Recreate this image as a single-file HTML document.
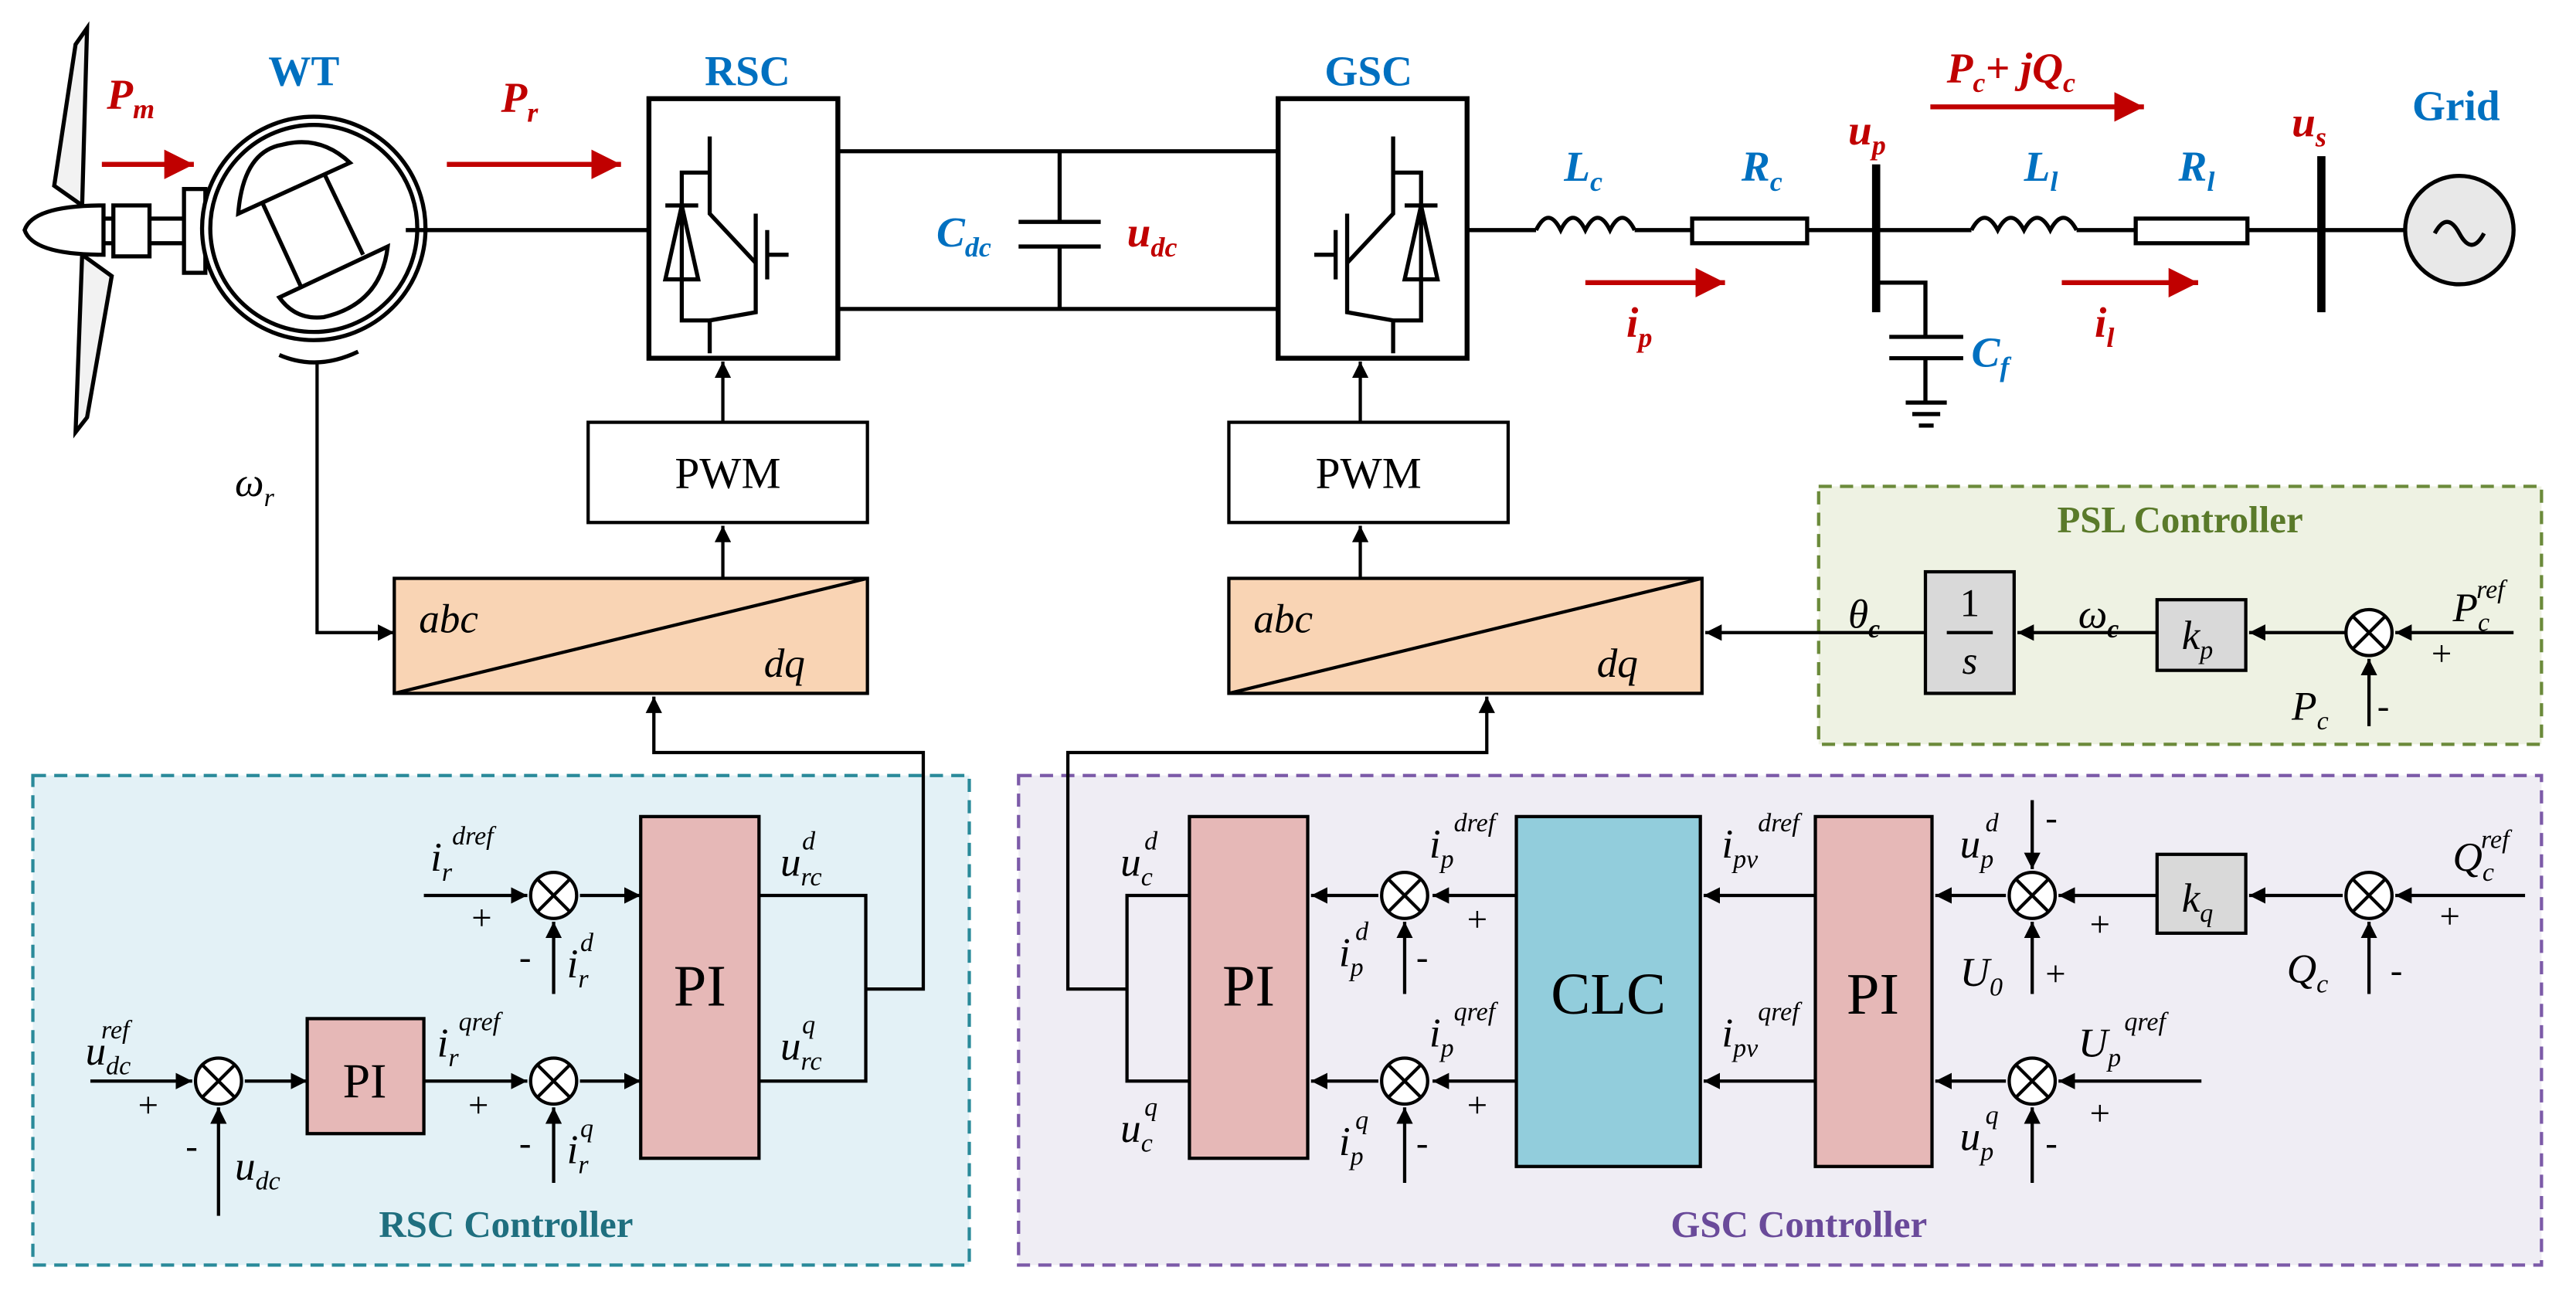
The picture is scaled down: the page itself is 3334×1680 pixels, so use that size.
<!DOCTYPE html>
<html><head><meta charset="utf-8"><style>
html,body{margin:0;padding:0;background:#fff}
svg{display:block}
text{font-family:"Liberation Serif",serif}
.i{font-style:italic}
.b{font-weight:bold}
</style></head><body>
<svg width="3334" height="1680" viewBox="0 0 1568 790" xmlns="http://www.w3.org/2000/svg">
<defs>
<marker id="a" viewBox="0 0 10 10" refX="10" refY="5" markerWidth="10" markerHeight="10" markerUnits="userSpaceOnUse" orient="auto"><path d="M0,0L10,5L0,10z" fill="#000"/></marker>
<marker id="r" viewBox="0 0 10 10" refX="10" refY="5" markerWidth="18" markerHeight="20" markerUnits="userSpaceOnUse" orient="auto"><path d="M0,0L10,5L0,10z" fill="#c00000"/></marker>
<g id="sum"><circle r="14" fill="#fff" stroke="#000" stroke-width="2"/><path d="M-10,-10L10,10M-10,10L10,-10" stroke="#000" stroke-width="2"/></g>
</defs>
<rect x="1107" y="296" width="440" height="157" fill="#eef2e3" stroke="#6b8a3a" stroke-width="2" stroke-dasharray="8,5"/>
<rect x="20" y="472" width="570" height="298" fill="#e3f1f6" stroke="#2a8a9a" stroke-width="2" stroke-dasharray="8,5"/>
<rect x="620" y="472" width="927" height="298" fill="#efedf4" stroke="#7c5aa8" stroke-width="2" stroke-dasharray="8,5"/>
<text x="1327" y="324" font-size="23" class="b" fill="#5a7a2a" text-anchor="middle">PSL Controller</text>
<text x="308" y="753" font-size="23" class="b" fill="#1f6f7f" text-anchor="middle">RSC Controller</text>
<text x="1095" y="753" font-size="23" class="b" fill="#6a4a9a" text-anchor="middle">GSC Controller</text>

<g stroke="#000" stroke-width="2.5" fill="none">
<path d="M50,125 L33,113 L46,27 L53,17 Z" fill="#f2f2f2"/>
<path d="M50,155 L68,168 L53,254 L46,263 Z" fill="#f2f2f2"/>
<path d="M63,125 Q20,125 15,140 Q20,155 63,155 Z" fill="#fff"/>
<rect x="69" y="125" width="22" height="31" fill="#fff"/>
<path d="M63,133H69M63,148H69M91,133H112M91,148H112"/>
<rect x="112" y="115" width="13" height="51" fill="#fff"/>
<circle cx="191" cy="139" r="68" fill="#fff"/>
<circle cx="191" cy="139" r="63"/>
<path d="M145,130 Q148,92 172,88 Q195,82 213,99 Z" fill="#fff"/>
<path d="M170,181 Q180,195 197,193 Q232,185 236,150 Z" fill="#fff"/>
<path d="M160,124 L183,174 M198,107 L221,155"/>
<path d="M170,216 Q193,226 218,214"/>
<line x1="247" y1="140" x2="395" y2="140"/>
<rect x="395" y="60" width="115" height="158" fill="#fff" stroke-width="3"/>
<path d="M432,83V105H415V195H432V215M432,105V130L460,160V190L432,195M460,130V175M467,140V170M467,155H480M405,125H425M415,125L405,170H425Z"/>
<path d="M510,92H778M510,188H778M645,92V135M645,150V188M620,135H670M620,150H670"/>
<rect x="778" y="60" width="115" height="158" fill="#fff" stroke-width="3"/>
<path d="M848,83V105H865V195H848V215M848,105V130L820,160V190L848,195M820,130V175M813,140V170M813,155H800M855,125H875M865,125L855,170H875Z"/>
<path d="M893,140H935 M935,140 q7.5,-15 15,0 q7.5,-15 15,0 q7.5,-15 15,0 q7.5,-15 15,0 M995,140H1030"/>
<rect x="1030" y="133" width="70" height="15" fill="#fff"/>
<path d="M1100,140H1200 M1200,140 q8,-15 16,0 q8,-15 16,0 q8,-15 16,0 q8,-15 16,0 M1264,140H1300"/>
<rect x="1300" y="133" width="68" height="15" fill="#fff"/>
<path d="M1368,140H1465"/>
<line x1="1142" y1="100" x2="1142" y2="190" stroke-width="5"/>
<line x1="1413" y1="95" x2="1413" y2="190" stroke-width="5"/>
<path d="M1142,172H1172V205M1150,205H1195M1150,218H1195M1172,218V245M1160,245H1185M1164,252H1181M1168,259H1177"/>
<circle cx="1497" cy="140" r="33" fill="#e8e8e8"/>
<path d="M1482,142 q7.5,-14 15,0 q7.5,14 15,0"/>
</g>
<g stroke="#000" stroke-width="2" fill="none">
<rect x="358" y="257" width="170" height="61" fill="#fff"/>
<rect x="748" y="257" width="170" height="61" fill="#fff"/>
<rect x="240" y="352" width="288" height="70" fill="#f9d4b4"/>
<rect x="748" y="352" width="288" height="70" fill="#f9d4b4"/>
<path d="M240,422L528,352M748,422L1036,352"/>
<path d="M440,257V220" marker-end="url(#a)"/>
<path d="M828,257V220" marker-end="url(#a)"/>
<path d="M440,352V320" marker-end="url(#a)"/>
<path d="M828,352V320" marker-end="url(#a)"/>
<path d="M193,220V385H240" marker-end="url(#a)"/>
<rect x="1172" y="348" width="54" height="74" fill="#d9d9d9"/>
<rect x="1313" y="365" width="54" height="43" fill="#d9d9d9"/>
<path d="M1172,385H1038" marker-end="url(#a)"/>
<path d="M1313,385H1228" marker-end="url(#a)"/>
<path d="M1428,385H1369" marker-end="url(#a)"/>
<path d="M1530,385H1458" marker-end="url(#a)"/>
<path d="M1442,442V401" marker-end="url(#a)"/>
<path d="M1185,385H1213"/>
<rect x="390" y="497" width="72" height="208" fill="#e6b8b7"/>
<rect x="187" y="620" width="71" height="70" fill="#e6b8b7"/>
<path d="M55,658H117" marker-end="url(#a)"/>
<path d="M133,740V674" marker-end="url(#a)"/>
<path d="M149,658H187" marker-end="url(#a)"/>
<path d="M258,658H321" marker-end="url(#a)"/>
<path d="M258,545H321" marker-end="url(#a)"/>
<path d="M337,720V674" marker-end="url(#a)"/>
<path d="M337,605V561" marker-end="url(#a)"/>
<path d="M353,545H390" marker-end="url(#a)"/>
<path d="M353,658H390" marker-end="url(#a)"/>
<path d="M462,545H527V658H462M527,602H562V458H398V424" marker-end="url(#a)"/>
<rect x="724" y="497" width="72" height="208" fill="#e6b8b7"/>
<rect x="923" y="497" width="112" height="213" fill="#92cddc"/>
<rect x="1105" y="497" width="71" height="213" fill="#e6b8b7"/>
<rect x="1313" y="520" width="54" height="48" fill="#d9d9d9"/>
<path d="M724,545H686V658H724M686,602H650V458H905V424" marker-end="url(#a)"/>
<path d="M839,545H798" marker-end="url(#a)"/>
<path d="M839,658H798" marker-end="url(#a)"/>
<path d="M923,545H872" marker-end="url(#a)"/>
<path d="M923,658H872" marker-end="url(#a)"/>
<path d="M855,605V561" marker-end="url(#a)"/>
<path d="M855,720V674" marker-end="url(#a)"/>
<path d="M1105,545H1037" marker-end="url(#a)"/>
<path d="M1105,658H1037" marker-end="url(#a)"/>
<path d="M1221,545H1178" marker-end="url(#a)"/>
<path d="M1221,658H1178" marker-end="url(#a)"/>
<path d="M1237,487V529" marker-end="url(#a)"/>
<path d="M1237,605V561" marker-end="url(#a)"/>
<path d="M1237,720V674" marker-end="url(#a)"/>
<path d="M1313,545H1253" marker-end="url(#a)"/>
<path d="M1340,658H1253" marker-end="url(#a)"/>
<path d="M1426,545H1369" marker-end="url(#a)"/>
<path d="M1537,545H1458" marker-end="url(#a)"/>
<path d="M1442,605V561" marker-end="url(#a)"/>
</g>
<use href="#sum" x="1442" y="385"/>
<use href="#sum" x="133" y="658"/>
<use href="#sum" x="337" y="545"/>
<use href="#sum" x="337" y="658"/>
<use href="#sum" x="855" y="545"/>
<use href="#sum" x="855" y="658"/>
<use href="#sum" x="1237" y="545"/>
<use href="#sum" x="1237" y="658"/>
<use href="#sum" x="1442" y="545"/>
<g stroke="#c00000" stroke-width="3" fill="none">
<path d="M62,100H118" marker-end="url(#r)"/>
<path d="M272,100H378" marker-end="url(#r)"/>
<path d="M965,172H1050" marker-end="url(#r)"/>
<path d="M1255,172H1338" marker-end="url(#r)"/>
<path d="M1175,65H1305" marker-end="url(#r)"/>
</g>
<g font-size="26" class="b">
<text x="185" y="52" fill="#0070c0" text-anchor="middle">WT</text>
<text x="455" y="52" fill="#0070c0" text-anchor="middle">RSC</text>
<text x="833" y="52" fill="#0070c0" text-anchor="middle">GSC</text>
<text x="1495" y="73" fill="#0070c0" text-anchor="middle">Grid</text>
</g>
<g font-size="26" class="b i">
<text x="65" y="66" fill="#c00000">P<tspan font-size="17" dy="6">m</tspan></text>
<text x="305" y="68" fill="#c00000">P<tspan font-size="17" dy="6">r</tspan></text>
<text x="570" y="150" fill="#0070c0">C<tspan font-size="17" dy="6">dc</tspan></text>
<text x="686" y="150" fill="#c00000">u<tspan font-size="17" dy="6">dc</tspan></text>
<text x="952" y="110" fill="#0070c0">L<tspan font-size="17" dy="6">c</tspan></text>
<text x="1060" y="110" fill="#0070c0">R<tspan font-size="17" dy="6">c</tspan></text>
<text x="1232" y="110" fill="#0070c0">L<tspan font-size="17" dy="6">l</tspan></text>
<text x="1326" y="110" fill="#0070c0">R<tspan font-size="17" dy="6">l</tspan></text>
<text x="1125" y="88" fill="#c00000">u<tspan font-size="17" dy="6">p</tspan></text>
<text x="1395" y="83" fill="#c00000">u<tspan font-size="17" dy="6">s</tspan></text>
<text x="990" y="205" fill="#c00000">i<tspan font-size="17" dy="6">p</tspan></text>
<text x="1275" y="205" fill="#c00000">i<tspan font-size="17" dy="6">l</tspan></text>
<text x="1200" y="223" fill="#0070c0">C<tspan font-size="17" dy="6">f</tspan></text>
<text x="1185" y="50" fill="#c00000">P<tspan font-size="17" dy="6">c</tspan><tspan dy="-6">+ jQ</tspan><tspan font-size="17" dy="6">c</tspan></text>
</g>
<g font-size="27" text-anchor="middle">
<text x="443" y="297">PWM</text>
<text x="833" y="297">PWM</text>
<text x="426" y="612" font-size="36">PI</text>
<text x="222" y="668" font-size="30">PI</text>
<text x="760" y="612" font-size="36">PI</text>
<text x="1140" y="617" font-size="36">PI</text>
<text x="979" y="617" font-size="36">CLC</text>
<text x="1199" y="375" font-size="24">1</text>
<text x="1199" y="410" font-size="24" class="i">s</text>
</g>
<g font-size="25" class="i">
<text x="255" y="385">abc</text>
<text x="465" y="412">dq</text>
<text x="763" y="385">abc</text>
<text x="972" y="412">dq</text>
<text x="143" y="302">ω<tspan font-size="16" dy="6">r</tspan></text>
<text x="1125" y="382">θ<tspan font-size="16" dy="6" class="b">c</tspan></text>
<text x="1265" y="382">ω<tspan font-size="16" dy="6" class="b">c</tspan></text>
<text x="1328" y="395">k<tspan font-size="16" dy="6">p</tspan></text>
<text x="1328" y="555">k<tspan font-size="16" dy="6">q</tspan></text>
<text x="1493" y="378">P<tspan font-size="16" dy="6">c</tspan><tspan font-size="16" dx="-8" dy="-20">ref</tspan></text>
<text x="1395" y="438">P<tspan font-size="16" dy="6">c</tspan></text>
<text x="52" y="648">u<tspan font-size="16" dy="6">dc</tspan><tspan font-size="16" dx="-18" dy="-22">ref</tspan></text>
<text x="143" y="718">u<tspan font-size="16" dy="6">dc</tspan></text>
<text x="262" y="530">i<tspan font-size="16" dy="6">r</tspan><tspan font-size="16" dy="-22">dref</tspan></text>
<text x="345" y="595">i<tspan font-size="16" dy="6">r</tspan><tspan font-size="16" dx="-5" dy="-22">d</tspan></text>
<text x="266" y="643">i<tspan font-size="16" dy="6">r</tspan><tspan font-size="16" dy="-22">qref</tspan></text>
<text x="345" y="708">i<tspan font-size="16" dy="6">r</tspan><tspan font-size="16" dx="-5" dy="-22">q</tspan></text>
<text x="475" y="533">u<tspan font-size="16" dy="6">rc</tspan><tspan font-size="16" dx="-12" dy="-22">d</tspan></text>
<text x="475" y="645">u<tspan font-size="16" dy="6">rc</tspan><tspan font-size="16" dx="-12" dy="-22">q</tspan></text>
<text x="682" y="533">u<tspan font-size="16" dy="6">c</tspan><tspan font-size="16" dx="-5" dy="-22">d</tspan></text>
<text x="682" y="695">u<tspan font-size="16" dy="6">c</tspan><tspan font-size="16" dx="-5" dy="-22">q</tspan></text>
<text x="870" y="522">i<tspan font-size="16" dy="6">p</tspan><tspan font-size="16" dy="-22">dref</tspan></text>
<text x="815" y="588">i<tspan font-size="16" dy="6">p</tspan><tspan font-size="16" dx="-5" dy="-22">d</tspan></text>
<text x="870" y="637">i<tspan font-size="16" dy="6">p</tspan><tspan font-size="16" dy="-22">qref</tspan></text>
<text x="815" y="703">i<tspan font-size="16" dy="6">p</tspan><tspan font-size="16" dx="-5" dy="-22">q</tspan></text>
<text x="1048" y="522">i<tspan font-size="16" dy="6">pv</tspan><tspan font-size="16" dy="-22">dref</tspan></text>
<text x="1048" y="637">i<tspan font-size="16" dy="6">pv</tspan><tspan font-size="16" dy="-22">qref</tspan></text>
<text x="1193" y="522">u<tspan font-size="16" dy="6">p</tspan><tspan font-size="16" dx="-5" dy="-22">d</tspan></text>
<text x="1193" y="600">U<tspan font-size="16" dy="6">0</tspan></text>
<text x="1193" y="700">u<tspan font-size="16" dy="6">p</tspan><tspan font-size="16" dx="-5" dy="-22">q</tspan></text>
<text x="1265" y="643">U<tspan font-size="16" dy="6">p</tspan><tspan font-size="16" dx="2" dy="-22">qref</tspan></text>
<text x="1493" y="530">Q<tspan font-size="16" dy="6">c</tspan><tspan font-size="16" dx="-8" dy="-20">ref</tspan></text>
<text x="1392" y="598">Q<tspan font-size="16" dy="6">c</tspan></text>
</g>
<g font-size="22">
<text x="1480" y="405">+</text><text x="1447" y="437">-</text>
<text x="84" y="680">+</text><text x="113" y="705">-</text>
<text x="287" y="566">+</text><text x="316" y="590">-</text>
<text x="285" y="680">+</text><text x="316" y="703">-</text>
<text x="893" y="567">+</text><text x="862" y="590">-</text>
<text x="893" y="680">+</text><text x="862" y="703">-</text>
<text x="1245" y="505">-</text><text x="1245" y="600">+</text>
<text x="1272" y="570">+</text><text x="1272" y="685">+</text>
<text x="1245" y="703">-</text>
<text x="1485" y="565">+</text><text x="1455" y="598">-</text>
</g>
</svg>
</body></html>
